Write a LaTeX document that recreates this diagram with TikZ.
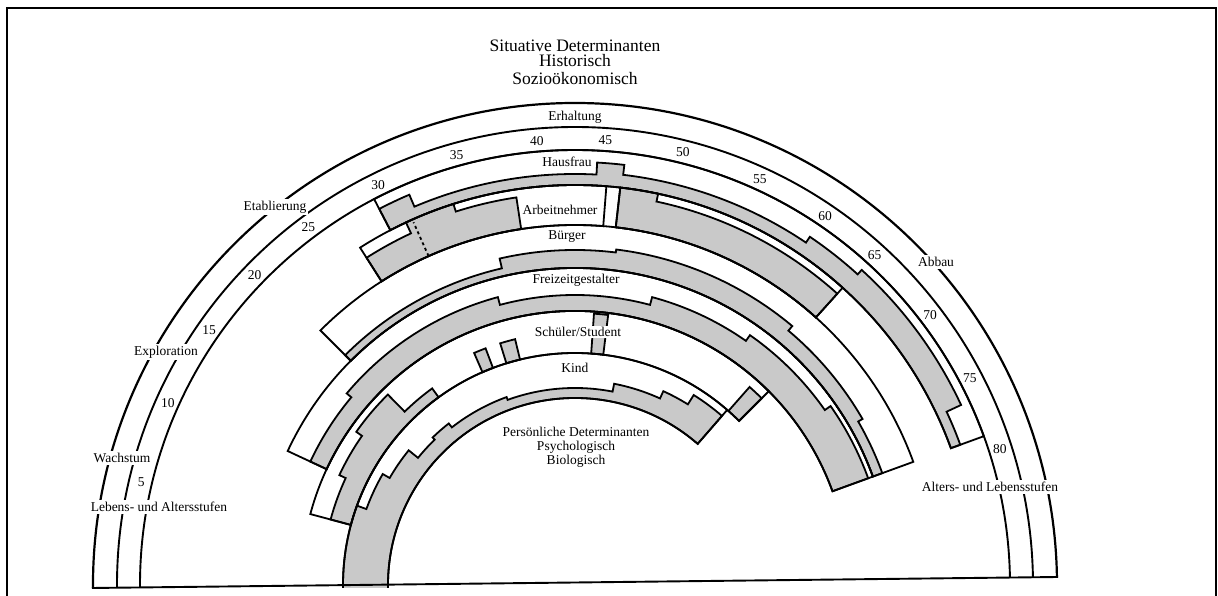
\documentclass[tikz,border=0pt]{standalone}
\usepackage{fontspec}
\setmainfont{Liberation Serif}
\newcommand\rbshade[4]{%
  \filldraw[shd] (#1:#3) arc[start angle=#1,end angle=#2,radius=#3]
    \foreach \pa/\pb/\pr in {#4} { -- (\pa:\pr) arc[start angle=\pa,end angle=\pb,radius=\pr] } -- cycle;}
\newcommand\rbband[4]{%
  \draw[edge] (#1:#4) arc[start angle=#1,end angle=#2,radius=#4] -- (#2:#3) arc[start angle=#2,end angle=#1,radius=#3] -- cycle;}
\begin{document}
\begin{tikzpicture}[x=1pt,y=1pt,
  edge/.style={line width=1.8pt,line join=miter},
  shd/.style={fill=black!21,draw=black,line width=1.8pt,line join=miter},
  lab/.style={font=\fontsize{13.5}{15}\selectfont,inner sep=1pt},
  wlab/.style={lab,fill=white,inner sep=2pt},
  head/.style={font=\fontsize{17.5}{19}\selectfont,inner sep=0pt}]
\useasboundingbox (-575,-11) rectangle (643,585);
% frame
\draw[line width=2.5pt] (-568,-11) -- (-568,577) -- (641,577) -- (641,-11);
% outer stage arcs
\draw[line width=2.2pt] (-482,-3) -- (180:482) arc[start angle=180,end angle=1,radius=482];
\draw[line width=1.9pt] (-458,-3) -- (180:458) arc[start angle=180,end angle=1,radius=458];
\draw[line width=1.9pt] (-435,-3) -- (180:435) arc[start angle=180,end angle=1,radius=435];
% shading
\rbshade{117.5}{20}{400}{20/25/410, 25/47.7/426, 47.7/56/420, 56/83.3/413, 83.3/87/423, 87/113/411, 113/117.5/424}
\rbshade{122.5}{98.6}{360}{98.6/107.7/392, 107.7/115/400, 115/122.5/388}
\rbshade{83.5}{48}{360}{48/78/392, 78/83.5/400}
\rbshade{135}{20}{317}{20/30/327, 30/50/332, 50/83/338, 83/103/335, 103/135/325}
\rbshade{155}{20}{274}{20/35/312, 35/55/305, 55/75/298, 75/105/290, 105/140/298, 140/155/292}
\rbshade{165}{126}{232}{126/134.5/243, 134.5/145/267, 145/155/260, 155/165/253}
\rbshade{113.5}{110.7}{232}{110.7/113.5/253}
\rbshade{107.2}{103.7}{232}{103.7/107.2/253}
\rbshade{86}{83}{232}{83/86/272}
\rbshade{48.6}{45}{232}{45/48.6/264}
\rbshade{180}{49}{187}{49/58/224, 58/65.5/213, 65.5/79/205, 79/110/197, 110/128/200, 128/134/205, 134/141/202, 141/150/214, 150/160/222, 160/180/232}
% band outlines
\rbband{117.5}{20}{400}{435}
\rbband{122.5}{85.5}{360}{400}
\rbband{83.5}{48}{360}{400}
\rbband{135}{20}{317}{360}
\rbband{155}{20}{274}{317}
\rbband{165}{45}{232}{274}
\rbband{180}{49}{187}{232}
\draw[edge,dashed] (114:360) -- (114:397);
\fill[black!21] (-232,-3) rectangle (-187,0);
\draw[edge] (-232,-3) -- (180:232);
\draw[edge] (-187,-3) -- (180:187);
% baseline
\draw[line width=1.9pt] (-483,-3) -- (483,8);
% headings
\node[head] (h1) at (0,539) {Situative Determinanten};
\node[head] (h2) at (0,524) {Historisch};
\node[head] (h3) at (0,506) {Sozioökonomisch};
\node[lab] (p1) at (1,153) {Persönliche Determinanten};
\node[lab] (p2) at (1,138) {Psychologisch};
\node[lab] (p3) at (1,124) {Biologisch};
% stage labels
\node[lab] (erh) at (0,468) {Erhaltung};
\node[wlab] (eta) at (-300,378) {Etablierung};
\node[wlab] (exp) at (-409,233) {Exploration};
\node[wlab] (wac) at (-453,127) {Wachstum};
\node[wlab] (leb) at (-416,78) {Lebens- und Altersstufen};
\node[wlab] (abb) at (361,323) {Abbau};
\node[wlab] (alt) at (415,98) {Alters- und Lebensstufen};
% ages
\foreach \n/\t in {5/166.6,10/155.9,15/145.1,20/135.9,25/126.7,30/116.2,35/105.4,40/94.9,45/86.1,50/76,55/65.5,60/55.9,65/47.8,70/37.2,75/27.7,80/17.7}
  \node[lab] (age\n) at (\t:446) {\n};
% role labels
\node[lab] (hf) at (-8,423) {Hausfrau};
\node[lab] (an) at (-15,375) {Arbeitnehmer};
\node[lab] (bg) at (-8,348) {Bürger};
\node[lab] (fz) at (1,305) {Freizeitgestalter};
\node[wlab,inner sep=1pt] (st) at (3,253) {Schüler/Student};
\node[lab] (kd) at (0,217) {Kind};
\end{tikzpicture}
\end{document}
